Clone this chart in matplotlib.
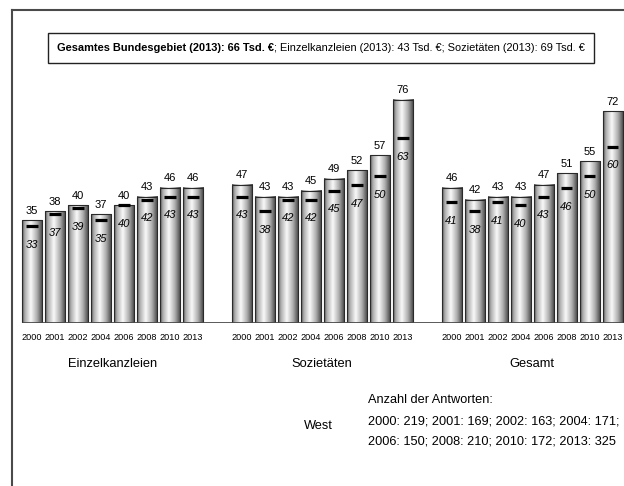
import numpy as np
import matplotlib
matplotlib.use('Agg')
import matplotlib.pyplot as plt
from matplotlib.patches import Rectangle
from matplotlib.lines import Line2D

plt.rcParams['font.family'] = ['Liberation Sans', 'DejaVu Sans']

# Umsatz je Inhaber (Tsd. €), West
years = ['2000', '2001', '2002', '2004', '2006', '2008', '2010', '2013']
groups = ['Einzelkanzleien', 'Sozietäten', 'Gesamt']
bar_values = [
    [35, 38, 40, 37, 40, 43, 46, 46],
    [47, 43, 43, 45, 49, 52, 57, 76],
    [46, 42, 43, 43, 47, 51, 55, 72],
]
median_values = [
    [33, 37, 39, 35, 40, 42, 43, 43],
    [43, 38, 42, 42, 45, 47, 50, 63],
    [41, 38, 41, 40, 43, 46, 50, 60],
]
answers = ['2000: 219; 2001: 169; 2002: 163; 2004: 171;',
           '2006: 150; 2008: 210; 2010: 172; 2013: 325']

W, H = 624, 486
fig = plt.figure(figsize=(W / 100, H / 100), dpi=100)


def fx(px):
    return px / W


def fy(py):
    return 1 - py / H


# Rahmen links und oben
fig.add_artist(Line2D([fx(11.5), fx(11.5)], [0, fy(10.5)], color='#4a4a4a', lw=1.5))
fig.add_artist(Line2D([fx(11.5), 1], [fy(10.5), fy(10.5)], color='#4a4a4a', lw=1.5))

# Kopfzeile im Kasten, fett + normal, gemeinsam zentriert
fig.add_artist(Rectangle((fx(48), fy(63)), fx(594) - fx(48), fy(33) - fy(63),
                         transform=fig.transFigure, fill=False, ec='#222222', lw=1.0))
t1 = fig.text(0, fy(48), 'Gesamtes Bundesgebiet (2013): 66 Tsd. €',
              fontsize=7.9, fontweight='bold', va='center', ha='left')
t2 = fig.text(0, fy(48), '; Einzelkanzleien (2013): 43 Tsd. €; Sozietäten (2013): 69 Tsd. €',
              fontsize=7.9, va='center', ha='left')
fig.canvas.draw()
w1 = t1.get_window_extent().width
w2 = t2.get_window_extent().width
left = (48 + 594) / 2 - (w1 + w2) / 2
t1.set_x(fx(left))
t2.set_x(fx(left + w1))

# Balkendiagramm
ax = fig.add_axes([0, (H - 323) / H, 1, 80 * 2.94 / H])
ax.set_axis_off()
width = 0.87
t = np.linspace(0, 1, 80)
shade = np.interp(t, [0, 0.12, 0.42, 0.72, 1], [0.3, 0.66, 0.98, 0.68, 0.25])
grad = shade[np.newaxis, :]

all_x = []
for g, name in enumerate(groups):
    xs = np.arange(len(years)) + 9.12 * g
    all_x.extend(xs)
    for x, v, m, yr in zip(xs, bar_values[g], median_values[g], years):
        ax.imshow(grad, extent=(x - width / 2, x + width / 2, 0, v), cmap='gray',
                  vmin=0, vmax=1, aspect='auto', interpolation='bicubic', zorder=2)
        ax.add_patch(Rectangle((x - width / 2, 0), width, v, fill=False,
                               ec='#2a2a2a', lw=0.8, zorder=3))
        ax.hlines(m, x - 0.25, x + 0.25, color='black', lw=2.3, zorder=4)
        ax.annotate(str(v), (x, v), xytext=(0, 6.8), textcoords='offset points',
                    ha='center', va='center', fontsize=8)
        ax.annotate(str(m), (x, m), xytext=(0, -13.5), textcoords='offset points',
                    ha='center', va='center', fontsize=8, style='italic', zorder=5)
        ax.annotate(yr, (x, 0), xytext=(0, -10.5), textcoords='offset points',
                    ha='center', va='center', fontsize=6.6, annotation_clip=False)
    ax.annotate(name, (xs.mean(), 0), xytext=(0, -29.5), textcoords='offset points',
                ha='center', va='center', fontsize=9.3, annotation_clip=False)

ax.hlines(0, all_x[0] - width / 2, all_x[-1] + width / 2, color='#4a4a4a', lw=2, zorder=5)
ax.set_xlim(-32 / 23, (W - 32) / 23)
ax.set_ylim(0, 80)

# Fußzeile
fig.text(fx(318), fy(426), 'West', fontsize=9.2, ha='center', va='center')
fig.text(fx(368), fy(400), 'Anzahl der Antworten:', fontsize=9.2, ha='left', va='center')
fig.text(fx(368), fy(421), answers[0], fontsize=9.2, ha='left', va='center')
fig.text(fx(368), fy(441), answers[1], fontsize=9.2, ha='left', va='center')

fig.savefig('out.png', dpi=100, facecolor='white')
